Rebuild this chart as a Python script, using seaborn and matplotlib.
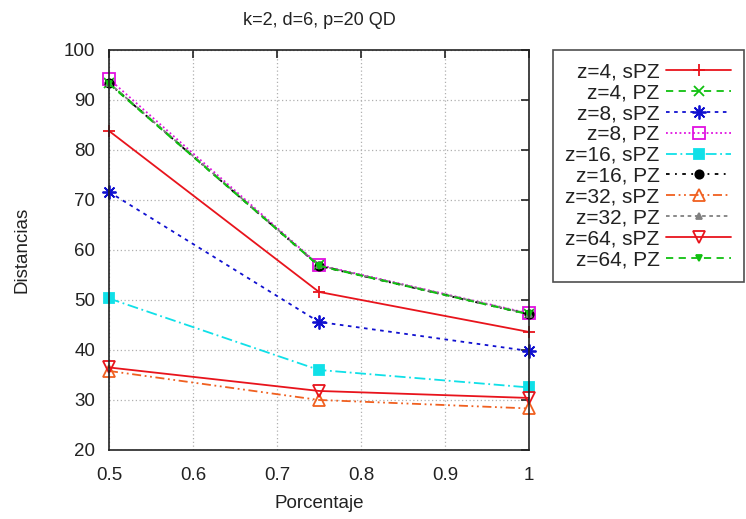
import matplotlib
matplotlib.use("Agg")
import matplotlib.pyplot as plt
import seaborn as sns
import pandas as pd

porcentaje = [0.5, 0.75, 1.0]
labels = ["z=4, sPZ", "z=4, PZ", "z=8, sPZ", "z=8, PZ", "z=16, sPZ",
          "z=16, PZ", "z=32, sPZ", "z=32, PZ", "z=64, sPZ", "z=64, PZ"]
z4_spz = [83.8, 51.6, 43.6]
z4_pz = [93.4, 56.9, 47.2]
z8_spz = [71.6, 45.6, 39.8]
z8_pz = [94.2, 57.0, 47.3]
z16_spz = [50.3, 36.0, 32.5]
z16_pz = [93.3, 56.8, 47.1]
z32_spz = [35.8, 30.0, 28.3]
z32_pz = [93.4, 56.9, 47.2]
z64_spz = [36.5, 31.8, 30.4]
z64_pz = [93.2, 56.8, 47.1]
series = [z4_spz, z4_pz, z8_spz, z8_pz, z16_spz, z16_pz, z32_spz, z32_pz, z64_spz, z64_pz]

styles = [
    dict(color="#e8141c", ls="-", marker="+", mfc="#e8141c", ms=9),
    dict(color="#10c010", ls=(0, (4, 3)), marker="x", mfc="#10c010", ms=7),
    dict(color="#1010d0", ls=(0, (2, 2.5)), marker=(8, 2, 0), mfc="#1010d0", ms=10),
    dict(color="#e010e0", ls=(0, (1, 1.5)), marker="s", mfc="none", ms=8),
    dict(color="#10e0e8", ls=(0, (6, 2, 1, 2)), marker="s", mfc="#10e0e8", ms=7),
    dict(color="#000000", ls=(0, (2, 3, 1, 3)), marker="o", mfc="#000000", ms=6),
    dict(color="#f06020", ls=(0, (5, 2, 1, 2, 1, 2)), marker="^", mfc="none", ms=8),
    dict(color="#808080", ls=(0, (2, 2)), marker="^", mfc="#808080", ms=5),
    dict(color="#e8141c", ls="-", marker="v", mfc="none", ms=8),
    dict(color="#10c010", ls=(0, (4, 3)), marker="v", mfc="#10c010", ms=5),
]

sns.set_style("white")
plt.rcParams["font.family"] = ["Liberation Sans", "DejaVu Sans"]

fig = plt.figure(figsize=(7.46, 5.19), dpi=100)
ax = fig.add_axes([0.146, 0.133, 0.563, 0.771])

for lab, vals, st in zip(labels, series, styles):
    df = pd.DataFrame({"Porcentaje": porcentaje, "Distancias": vals})
    sns.lineplot(data=df, x="Porcentaje", y="Distancias", ax=ax, label=lab,
                 color=st["color"], linestyle=st["ls"], marker=st["marker"],
                 markerfacecolor=st["mfc"], markeredgecolor=st["color"],
                 markersize=st["ms"], markeredgewidth=1.3, linewidth=1.3,
                 clip_on=False)

ax.set_xlim(0.5, 1.0)
ax.set_ylim(20, 100)
ax.set_xticks([0.5, 0.6, 0.7, 0.8, 0.9, 1.0])
ax.set_xticklabels(["0.5", "0.6", "0.7", "0.8", "0.9", "1"])
ax.set_yticks(range(20, 101, 10))
ax.grid(True, color="#b0b0b0", linestyle=(0, (1, 2)), linewidth=0.9)
ax.tick_params(direction="in", length=6, width=1.2, top=True, right=True,
               labelsize=13.5, colors="#222222")
ax.tick_params(axis="x", pad=12)
ax.tick_params(axis="y", pad=10)
for sp in ax.spines.values():
    sp.set_color("#222222")
    sp.set_linewidth(1.2)
ax.set_xlabel("Porcentaje", fontsize=13.5, color="#222222", labelpad=8)
ax.set_ylabel("Distancias", fontsize=13.5, color="#222222", labelpad=24)
ax.set_title("k=2, d=6, p=20 QD", fontsize=13, color="#222222", pad=18)

leg = ax.legend(loc="upper left", bbox_to_anchor=(1.057, 1.0), markerfirst=False,
                frameon=True, fancybox=False, edgecolor="#222222", fontsize=15,
                handlelength=3.15, handletextpad=0.3, labelspacing=0.09,
                borderpad=0.6, borderaxespad=0)
leg.get_frame().set_linewidth(1.2)
for t in leg.get_texts():
    t.set_color("#222222")

fig.savefig("out.png", dpi=100)
